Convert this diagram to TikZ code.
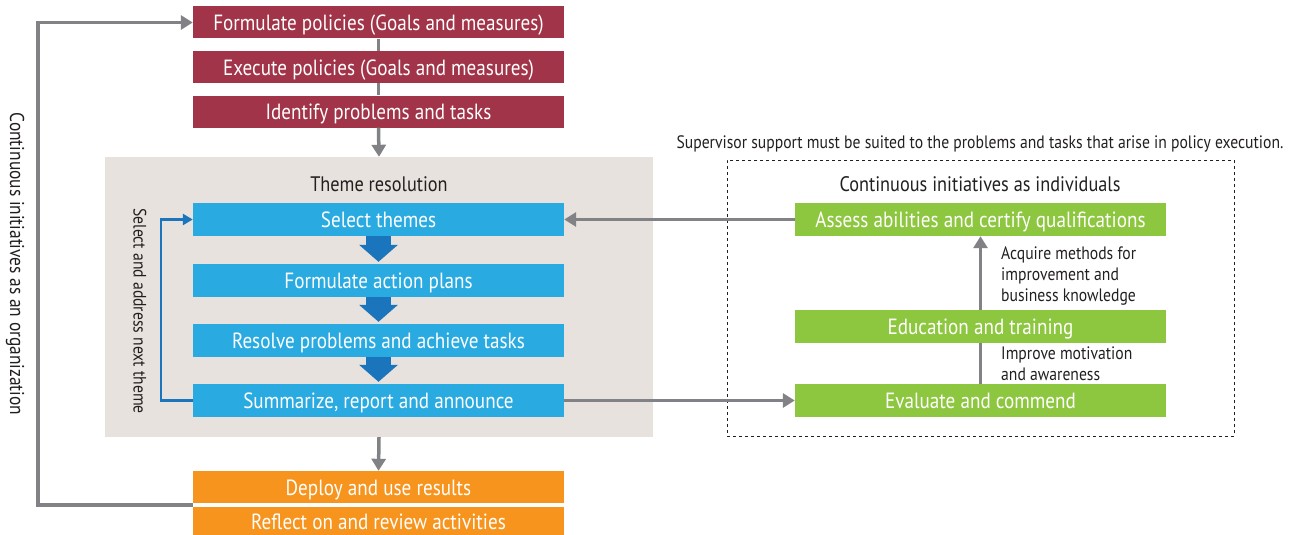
\documentclass[tikz,border=0pt]{standalone}
\usepackage{fontspec}
\setmainfont{PT Sans}[FakeStretch=0.87]
\usetikzlibrary{arrows.meta,calc}
\definecolor{cred}{HTML}{A13448}
\definecolor{cblue}{HTML}{29ABE2}
\definecolor{cdblue}{HTML}{1B75BC}
\definecolor{cgreen}{HTML}{8DC63F}
\definecolor{corange}{HTML}{F7941D}
\definecolor{cgray}{HTML}{808285}
\definecolor{cbg}{HTML}{E7E2DD}
\definecolor{ctext}{HTML}{231F20}
\tikzset{
  box/.style={minimum width=371pt, minimum height=33pt, inner sep=0pt, text=white,
     text height=18pt, text depth=2pt,
     font=\fontsize{22}{26}\selectfont},
  redbox/.style={box, fill=cred, minimum height=32pt},
  bluebox/.style={box, fill=cblue},
  greenbox/.style={box, fill=cgreen},
  orangebox/.style={box, fill=corange},
  title/.style={text=ctext, inner sep=0pt, font=\fontsize{21}{25}\selectfont},
  small/.style={text=ctext, inner sep=0pt, font=\fontsize{18}{21}\selectfont},
  garrow/.style={draw=cgray, line width=3.5pt, -{Triangle[width=14pt,length=12pt]}},
  gline/.style={draw=cgray, line width=3.5pt},
  barrow/.style={draw=cdblue, line width=2.5pt, -{Triangle[width=11pt,length=10pt]}},
  bigarrow/.style={draw=cdblue, line width=25pt, -{Triangle[width=38pt,length=17pt]}, shorten >=2pt},
}
\begin{document}
\begin{tikzpicture}[x=1pt,y=-1pt]
\useasboundingbox (0,0) rectangle (1298,535);
% background panels
\node[fill=cbg, minimum width=548pt, minimum height=280pt, inner sep=0pt] (theme) at (379,297) {};
\node[title] (themet) at (379,184) {Theme resolution};
\node[draw=ctext, dashed, line width=1pt, minimum width=507pt, minimum height=276pt, inner sep=0pt] (dash) at (980.5,298) {};
\node[title] (indt) at (980,184) {Continuous initiatives as individuals};
\node[small] (sup) at (980,144) {Supervisor support must be suited to the problems and tasks that arise in policy execution.};
% red boxes
\node[redbox] (r1) at (378.5,22.5) {Formulate policies (Goals and measures)};
\node[redbox] (r2) at (378.5,67) {Execute policies (Goals and measures)};
\node[redbox] (r3) at (378.5,111.5) {Identify problems and tasks};
% blue boxes
\node[bluebox] (b1) at (378.5,219.5) {Select themes};
\node[bluebox] (b2) at (378.5,280.5) {Formulate action plans};
\node[bluebox] (b3) at (378.5,340.5) {Resolve problems and achieve tasks};
\node[bluebox] (b4) at (378.5,400.5) {Summarize, report and announce};
% green boxes
\node[greenbox] (g1) at (980.5,219.5) {Assess abilities and certify qualifications};
\node[greenbox] (g2) at (980.5,326.5) {Education and training};
\node[greenbox] (g3) at (980.5,400.5) {Evaluate and commend};
% orange boxes
\node[orangebox, minimum height=32pt] (o1) at (378.5,487) {Deploy and use results};
\node[orangebox, minimum height=28pt] (o2) at (378.5,521) {Reflect on and review activities};
% labels
\node[small, anchor=north west, align=left] (lab1) at (1001,246) {Acquire methods for\\improvement and\\business knowledge};
\node[small, anchor=north west, align=left] (lab2) at (1001,347) {Improve motivation\\and awareness};
\node[small, rotate=-90] (sel) at (140,311) {Select and address next theme};
\node[small, font=\fontsize{20}{24}\selectfont, rotate=-90] (org) at (15,264) {Continuous initiatives as an organization};
% connectors
\draw[gline] (r1.south) -- (r2.north);
\draw[gline] (r2.south) -- (r3.north);
\draw[garrow] (r3.south) -- (theme.north);
\draw[garrow] (theme.south) -- (o1.north);
\coordinate (omid) at ($(o1.south west)!0.5!(o2.north west)$);
\draw[garrow] (omid) -- ++(-155,0) |- (r1.west);
\draw[bigarrow] (b1.south) -- (b2.north);
\draw[bigarrow] (b2.south) -- (b3.north);
\draw[bigarrow] (b3.south) -- (b4.north);
\draw[barrow] (b4.west) -- ++(-32,0) |- (b1.west);
\draw[garrow] (g1.west) -- (b1.east);
\draw[garrow] (b4.east) -- (g3.west);
\draw[gline] (g3.north) -- (g2.south);
\draw[garrow] (g2.north) -- (g1.south);
\end{tikzpicture}
\end{document}
